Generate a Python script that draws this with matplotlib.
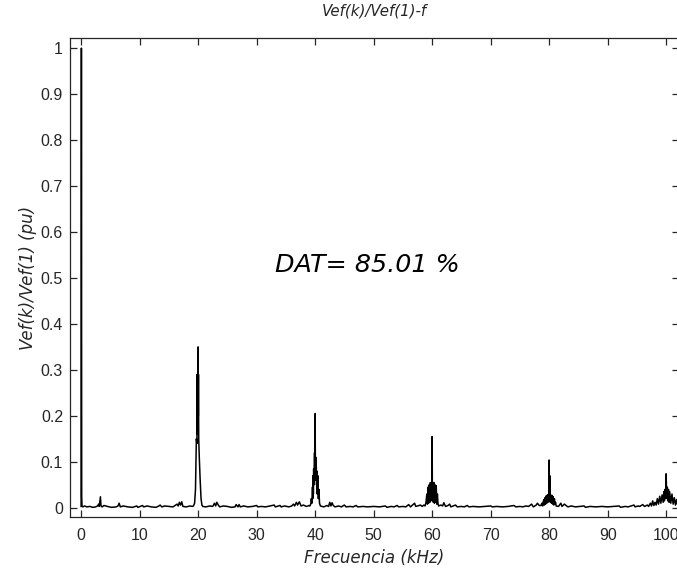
import numpy as np
import matplotlib
matplotlib.use('Agg')
import matplotlib.pyplot as plt

plt.rcParams['font.family'] = ['DejaVu Sans']

# spectrum, one region at a time (kHz, pu)
f_low = [0.0, 0.05, 0.1, 0.15, 0.3, 0.6, 1.0, 1.5, 2.0, 2.5, 2.8, 3.0, 3.1, 3.3, 3.4, 3.6, 3.9, 4.5, 5.2, 6.0, 6.3, 6.5, 6.7,
         7.2, 8.0, 8.8, 9.5, 9.7, 10.5, 10.7, 11.3, 12.0, 12.8, 13.3, 13.5, 13.8, 14.3, 15.0, 15.7, 16.4, 16.6, 16.8,
         17.0, 17.2, 17.4, 18.0, 18.6, 19.0]
v_low = [0.003, 1.0, 0.025, 0.004, 0.002, 0.004, 0.002, 0.003, 0.001, 0.002, 0.004, 0.008, 0.003, 0.024, 0.004, 0.002, 0.005,
         0.003, 0.001, 0.002, 0.004, 0.01, 0.002, 0.004, 0.002, 0.001, 0.004, 0.001, 0.005, 0.002, 0.004, 0.002, 0.001,
         0.004, 0.006, 0.002, 0.004, 0.003, 0.002, 0.008, 0.004, 0.012, 0.006, 0.013, 0.003, 0.002, 0.004, 0.003]

f_h20 = [19.2, 19.4, 19.55, 19.7, 19.8, 19.84, 19.87, 19.9, 19.93, 19.96, 20.0, 20.03, 20.06, 20.1, 20.2, 20.35,
         20.5, 20.65, 20.8]
v_h20 = [0.004, 0.01, 0.04, 0.15, 0.14, 0.29, 0.16, 0.29, 0.18, 0.28, 0.35, 0.2, 0.29, 0.15, 0.11, 0.06,
         0.02, 0.006, 0.003]

f_mid1 = [21.3, 22.0, 22.5, 22.8, 23.0, 23.2, 23.5, 23.7, 24.3, 25.0, 25.7, 26.3, 26.5, 26.8, 27.0, 27.2, 27.8, 28.5,
          29.3, 30.0, 30.2, 30.8, 31.5, 32.3, 33.0, 33.2, 34.0, 34.2, 34.8, 35.5, 36.0, 36.3, 36.5, 36.8, 37.0,
          37.3, 37.6, 38.0, 38.5, 39.0]
v_mid1 = [0.002, 0.004, 0.003, 0.01, 0.004, 0.012, 0.005, 0.002, 0.004, 0.003, 0.001, 0.002, 0.007, 0.002, 0.007, 0.002,
          0.004, 0.002, 0.003, 0.005, 0.002, 0.003, 0.002, 0.004, 0.006, 0.002, 0.005, 0.002, 0.004, 0.002, 0.004,
          0.008, 0.004, 0.012, 0.006, 0.013, 0.004, 0.006, 0.003, 0.005]

f_h40 = [39.1, 39.25, 39.35, 39.45, 39.55, 39.6, 39.65, 39.7, 39.75, 39.8, 39.85, 39.9, 39.95, 40.0, 40.05, 40.1,
         40.15, 40.2, 40.25, 40.3, 40.35, 40.45, 40.55, 40.65, 40.75, 40.9]
v_h40 = [0.004, 0.008, 0.02, 0.01, 0.045, 0.02, 0.07, 0.03, 0.085, 0.05, 0.09, 0.12, 0.07, 0.205, 0.08, 0.11,
         0.06, 0.09, 0.05, 0.08, 0.03, 0.07, 0.02, 0.04, 0.01, 0.004]

f_mid2 = [41.5, 42.0, 42.3, 42.5, 42.7, 42.9, 43.1, 43.4, 44.0, 44.5, 45.0, 45.3, 46.0, 46.5, 47.0, 47.3, 48.2, 49.0,
          50.0, 51.0, 52.0, 52.3, 53.0, 53.5, 54.0, 54.3, 55.0, 55.5, 56.0, 56.3, 57.0, 57.2, 57.5, 58.0, 58.3, 58.6]
v_mid2 = [0.002, 0.005, 0.003, 0.012, 0.004, 0.011, 0.005, 0.002, 0.004, 0.002, 0.006, 0.002, 0.003, 0.002, 0.005, 0.002,
          0.003, 0.002, 0.003, 0.002, 0.004, 0.001, 0.003, 0.002, 0.005, 0.002, 0.003, 0.002, 0.007, 0.002, 0.01,
          0.003, 0.004, 0.006, 0.003, 0.006]

f_h60 = [58.8, 58.95, 59.1, 59.2, 59.3, 59.4, 59.5, 59.6, 59.7, 59.8, 59.9, 59.95, 60.0, 60.05, 60.1, 60.2,
         60.3, 60.4, 60.5, 60.6, 60.7, 60.8, 60.9, 61.0, 61.1]
v_h60 = [0.004, 0.012, 0.03, 0.008, 0.045, 0.01, 0.05, 0.012, 0.055, 0.015, 0.05, 0.02, 0.155, 0.02, 0.05, 0.012,
         0.055, 0.01, 0.05, 0.012, 0.048, 0.008, 0.03, 0.01, 0.004]

f_mid3 = [61.5, 61.8, 62.0, 62.3, 62.7, 63.0, 63.2, 63.6, 64.0, 64.3, 65.0, 65.5, 66.0, 66.3, 67.0, 68.0, 69.0, 70.0,
          70.3, 71.0, 72.0, 73.0, 74.0, 74.3, 75.0, 75.5, 76.0, 76.5, 77.0, 77.3, 77.8, 78.0, 78.3]
v_mid3 = [0.006, 0.004, 0.011, 0.003, 0.005, 0.008, 0.002, 0.004, 0.006, 0.002, 0.003, 0.002, 0.005, 0.002, 0.003,
          0.002, 0.003, 0.004, 0.002, 0.003, 0.002, 0.003, 0.005, 0.002, 0.003, 0.002, 0.004, 0.003, 0.008, 0.002,
          0.006, 0.01, 0.005]

f_h80 = [78.6, 78.75, 78.9, 79.0, 79.1, 79.2, 79.3, 79.4, 79.5, 79.6, 79.7, 79.8, 79.9, 79.95, 80.0, 80.05, 80.1,
         80.2, 80.3, 80.4, 80.5, 80.6, 80.7, 80.8, 80.9, 81.0, 81.1, 81.2]
v_h80 = [0.005, 0.01, 0.004, 0.014, 0.018, 0.006, 0.022, 0.008, 0.026, 0.01, 0.028, 0.012, 0.03, 0.02, 0.104, 0.015,
         0.07, 0.012, 0.028, 0.01, 0.027, 0.008, 0.024, 0.006, 0.02, 0.008, 0.012, 0.004]

f_mid4 = [81.6, 82.0, 82.2, 82.6, 83.0, 83.2, 83.8, 84.5, 85.2, 86.0, 86.2, 87.0, 88.0, 89.0, 90.0, 91.0, 92.0, 92.2,
          93.0, 93.5, 94.0, 94.5, 94.7, 95.2, 95.5, 96.0, 96.3, 96.8, 97.0]
v_mid4 = [0.003, 0.01, 0.003, 0.008, 0.004, 0.002, 0.004, 0.002, 0.003, 0.004, 0.001, 0.003, 0.002, 0.003, 0.002, 0.003,
          0.004, 0.001, 0.003, 0.002, 0.004, 0.006, 0.002, 0.004, 0.003, 0.007, 0.003, 0.006, 0.003]

f_h100 = [97.3, 97.5, 97.7, 97.9, 98.1, 98.3, 98.5, 98.7, 98.9, 99.1, 99.3, 99.5, 99.6, 99.7, 99.8,
          99.9, 100.0, 100.1, 100.2, 100.3, 100.4, 100.5, 100.6, 100.8, 101.0, 101.2, 101.4, 101.6,
          101.8, 102.0]
v_h100 = [0.01, 0.004, 0.015, 0.005, 0.012, 0.006, 0.02, 0.008, 0.025, 0.01, 0.028, 0.012, 0.035, 0.015, 0.04,
          0.02, 0.074, 0.02, 0.045, 0.015, 0.04, 0.012, 0.035, 0.01, 0.03, 0.008, 0.022, 0.006,
          0.018, 0.005]

freq = np.concatenate([f_low, f_h20, f_mid1, f_h40, f_mid2, f_h60, f_mid3, f_h80, f_mid4, f_h100])
vef = np.concatenate([v_low, v_h20, v_mid1, v_h40, v_mid2, v_h60, v_mid3, v_h80, v_mid4, v_h100])

x_ticks = [0, 10, 20, 30, 40, 50, 60, 70, 80, 90, 100]
y_ticks = [0, 0.1, 0.2, 0.3, 0.4, 0.5, 0.6, 0.7, 0.8, 0.9, 1]
y_tick_labels = ['0', '0.1', '0.2', '0.3', '0.4', '0.5', '0.6', '0.7', '0.8', '0.9', '1']
dat_text = 'DAT= 85.01 %'

fig = plt.figure(figsize=(6.77, 5.69), dpi=100)
ax = fig.add_axes([70 / 677, 52 / 569, 609 / 677, 479 / 569])

ax.plot(freq, vef, color='black', linewidth=1.1)

ax.set_xlim(-1.9, 102.2)
ax.set_ylim(-0.02, 1.022)
ax.set_xticks(x_ticks)
ax.set_yticks(y_ticks)
ax.set_yticklabels(y_tick_labels)
ax.tick_params(direction='in', top=True, right=True, length=5, width=0.9,
               labelsize=11, color='#262626', labelcolor='#262626')
ax.tick_params(axis='x', pad=8)
ax.tick_params(axis='y', pad=5)
for lbl in ax.get_xticklabels() + ax.get_yticklabels():
    lbl.set_family('Liberation Sans')
    lbl.set_fontsize(11.5)
for sp in ax.spines.values():
    sp.set_linewidth(0.9)
    sp.set_color('#262626')

ax.set_title('Vef(k)/Vef(1)-f', fontsize=10.8, style='italic', color='#262626', pad=16)
ax.set_xlabel('Frecuencia (kHz)', fontsize=12, style='italic', color='#262626', labelpad=4)
ax.set_ylabel('Vef(k)/Vef(1) (pu)', fontsize=12, style='italic', color='#262626', labelpad=3)

ax.text(33.2, 0.528, dat_text, fontsize=18.3, style='italic', va='center', ha='left', color='black')

fig.savefig('out.png', dpi=100)
